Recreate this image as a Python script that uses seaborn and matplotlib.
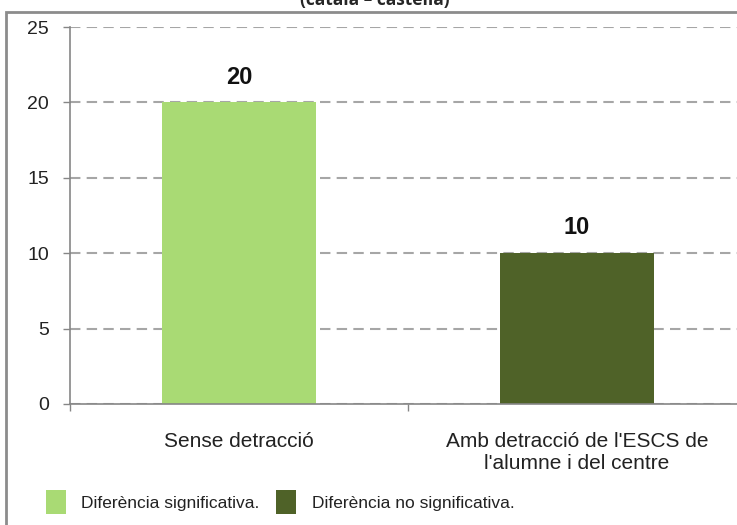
import matplotlib
matplotlib.use('Agg')
import matplotlib.pyplot as plt
import matplotlib.patches as mpatches
import seaborn as sns

categories = ['Sense detracció', "Amb detracció de l'ESCS de\nl'alumne i del centre"]
values = [20, 10]
bar_colors = ['#A9DA74', '#4F6228']
legend_labels = ['Diferència significativa.', 'Diferència no significativa.']
yticks = [0, 5, 10, 15, 20, 25]

sns.set_style('white')
plt.rcParams['font.family'] = ['Liberation Sans', 'DejaVu Sans']

fig = plt.figure(figsize=(7.37, 5.25), dpi=100)
ax = fig.add_axes([70/737, 1 - 404/525, 676/737, 377/525])

sns.barplot(x=categories, y=values, hue=categories, palette=bar_colors,
            width=0.455, legend=False, ax=ax, saturation=1, linewidth=0)

ax.set_ylim(0, 25)
ax.set_xlim(-0.5, 1.5)
ax.set_yticks(yticks)
ax.set_xlabel('')
ax.set_ylabel('')
ax.yaxis.grid(True, linestyle=(0, (5, 3)), color='#A6A6A6', linewidth=1.5)
ax.set_axisbelow(True)
for s in ['top', 'right']:
    ax.spines[s].set_visible(False)
for s in ['left', 'bottom']:
    ax.spines[s].set_color('#868686')
    ax.spines[s].set_linewidth(1.2)

ax.tick_params(axis='y', labelsize=14, length=5, width=1, color='#868686',
               pad=10, direction='out', left=True, labelcolor='#222222')
ax.tick_params(axis='x', which='major', labelsize=15, length=0, pad=20,
               labelcolor='#222222')
ax.set_xticks([-0.5, 0.5, 1.5], minor=True)
ax.tick_params(axis='x', which='minor', length=5, width=1, color='#868686',
               direction='out', bottom=True)

for c in ax.containers:
    ax.bar_label(c, labels=[str(int(v)) for v in c.datavalues], padding=10,
                 fontsize=17, fontweight='bold', color='#111111')

handles = [mpatches.Patch(facecolor=col, edgecolor='none') for col in bar_colors]
fig.legend(handles, legend_labels, ncol=2, loc='lower left',
           bbox_to_anchor=(30/737, -5/525), frameon=False, fontsize=12.5,
           handlelength=1.15, handleheight=1.8, handletextpad=0.9,
           columnspacing=0.95, labelcolor='#222222')

# outer chart frame
fig.patches.append(mpatches.Rectangle((6/737, -0.05), 1.2, 1 - 12/525 + 0.05,
                                      transform=fig.transFigure, fill=False,
                                      edgecolor='#8C8C8C', linewidth=2))

fig.text(375/737, 1 - 5/525, '(català – castellà)', ha='center', va='baseline',
         fontsize=12.5, fontweight='bold', family=['Open Sans', 'DejaVu Sans'])

fig.savefig('out.png', dpi=100)
